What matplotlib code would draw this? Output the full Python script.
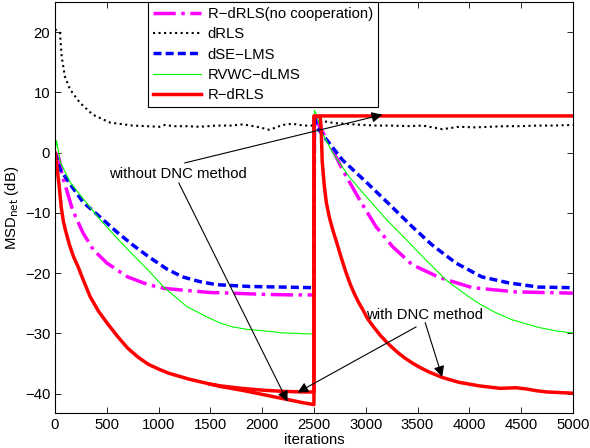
import matplotlib
matplotlib.use("Agg")
import matplotlib.pyplot as plt

plt.rcParams['font.family'] = ['Liberation Sans', 'DejaVu Sans']
plt.rcParams['font.size'] = 10.7

# ---- data (iteration, MSD in dB) ----
nocoop_x = [0, 40, 70, 100, 170, 270, 370, 500, 700, 900, 1050, 1230, 1500, 1700, 2000, 2300, 2500,
            2505, 2555, 2680, 2775, 2940, 3100, 3260, 3450, 3710, 4030, 4450, 5000]
nocoop_y = [0.0, -1.0, -3.8, -5.5, -9.5, -13.3, -16.1, -18.3, -20.6, -21.9, -22.5, -22.8, -23.2, -23.3, -23.5, -23.6, -23.6,
            6.0, 4.3, 0.5, -2.8, -7.8, -12.3, -15.6, -18.6, -20.7, -22.4, -23.1, -23.3]

drls_x = [0, 20, 48, 64, 96, 145, 240, 366, 530, 750, 1010, 1060, 1150, 1270, 1400, 1560, 1700, 1815, 1950,
          2071, 2196, 2292, 2400, 2490, 2550, 2600, 2700, 2800, 2970, 3100, 3250, 3400, 3550, 3740, 3900,
          4050, 4200, 4350, 4500, 4650, 4800, 5000]
drls_y = [20.5, 20.2, 19.9, 16.0, 12.6, 10.5, 8.3, 6.3, 5.0, 4.5, 4.3, 4.6, 4.4, 4.4, 4.3, 4.5, 4.5, 4.7, 4.3,
          3.8, 4.6, 4.8, 4.5, 4.5, 5.4, 5.2, 4.9, 4.8, 4.6, 4.5, 4.5, 4.4, 4.5, 3.9, 4.3,
          4.2, 4.3, 4.4, 4.4, 4.5, 4.5, 4.6]

dse_x = [0, 50, 150, 270, 430, 600, 750, 915, 1080, 1230, 1400, 1560, 1880, 2200, 2500,
         2505, 2525, 2620, 2775, 3000, 3230, 3450, 3640, 3870, 4120, 4380, 4670, 5000]
dse_y = [0.0, -2.8, -5.3, -8.2, -10.6, -13.2, -15.3, -17.4, -19.3, -20.6, -21.4, -21.9, -22.2, -22.3, -22.4,
         6.0, 4.3, 2.2, -1.2, -4.8, -8.6, -12.3, -15.3, -18.3, -20.6, -21.6, -22.3, -22.4]

rvwc_x = [0, 15, 50, 150, 270, 430, 600, 750, 900, 1050, 1270, 1460, 1600, 1715, 1850, 2040, 2200, 2360, 2500,
          2505, 2520, 2580, 2680, 2840, 3000, 3200, 3390, 3580, 3780, 3970, 4100, 4250, 4410, 4670, 4850, 5000]
rvwc_y = [0.0, 2.0, -1.5, -5.0, -7.6, -11.0, -14.2, -16.9, -19.5, -22.3, -25.5, -27.2, -28.3, -28.9, -29.3, -29.6, -29.9, -30.0, -30.1,
          7.0, 6.5, 3.3, 0.0, -4.0, -7.2, -11.1, -14.4, -17.8, -21.2, -23.6, -25.1, -26.5, -27.7, -29.0, -29.6, -29.9]

# R-dRLS, common start
rdrls_x = [0, 20, 40, 60, 80, 100, 140, 180, 220, 270, 340, 420, 500, 600, 700, 800, 900, 1000,
           1100, 1200, 1300, 1400, 1500]
rdrls_y = [0.0, -2.5, -5.5, -9.0, -11.3, -12.8, -15.3, -17.3, -18.8, -21.0, -23.9, -26.3, -28.2, -30.4, -32.4,
           -33.9, -35.1, -35.9, -36.6, -37.1, -37.6, -38.0, -38.4]
# with DNC method
dnc_x = [1600, 1800, 2000, 2200, 2400, 2500, 2501, 2560, 2570, 2580, 2600, 2620, 2650, 2685, 2720, 2765, 2810,
         2850, 2890, 2930, 2970, 3020, 3080, 3140, 3200, 3260, 3320, 3380, 3450, 3520, 3600, 3670, 3740, 3820,
         3900, 4000, 4100, 4200, 4300, 4450, 4550, 4650, 4750, 4870, 5000]
dnc_y = [-38.7, -39.1, -39.4, -39.6, -39.7, -39.7, 6.0, 6.0, 4.0, -1.5, -5.5, -8.3, -10.8, -13.0, -14.9, -17.5, -19.9,
         -21.8, -23.4, -24.8, -26.0, -27.6, -29.0, -30.3, -31.4, -32.4, -33.3, -34.1, -34.9, -35.6, -36.3, -36.8, -37.3, -37.7,
         -38.1, -38.4, -38.7, -38.9, -39.1, -39.0, -39.2, -39.5, -39.7, -39.8, -39.9]
# without DNC method
nodnc_x = [1600, 1800, 2000, 2200, 2400, 2500, 2501, 5000]
nodnc_y = [-38.8, -39.4, -40.1, -40.8, -41.5, -41.8, 6.1, 6.1]

fig = plt.figure(figsize=(5.9, 4.48), dpi=100)
ax = fig.add_axes([0.0932, 0.078, 0.8778, 0.9175])

ax.plot(nocoop_x, nocoop_y, '-.', color=(1, 0, 1), lw=2.5, label='R\u2212dRLS(no cooperation)')
ax.plot(drls_x, drls_y, ':', color='k', lw=1.5, label='dRLS')
ax.plot(dse_x, dse_y, '--', color=(0, 0, 1), lw=2.5, dashes=(2.3, 1.2), label='dSE\u2212LMS')
ax.plot(rvwc_x, rvwc_y, '-', color=(0, 1, 0), lw=0.8, label='RVWC\u2212dLMS')
ax.plot(rdrls_x + dnc_x, rdrls_y + dnc_y, '-', color=(1, 0, 0), lw=2.5, label='R\u2212dRLS')
ax.plot(rdrls_x[-1:] + nodnc_x, rdrls_y[-1:] + nodnc_y, '-', color=(1, 0, 0), lw=2.5)

# annotations
arrow = dict(arrowstyle='-|>', color='k', lw=0.8, mutation_scale=16, shrinkA=0, shrinkB=0)
ax.text(1185, -3.6, 'without DNC method', ha='center', va='center')
ax.annotate('', xy=(3160, 6.3), xytext=(1252, -1.7), arrowprops=arrow)
ax.annotate('', xy=(2245, -41.3), xytext=(1195, -5.0), arrowprops=arrow)
ax.text(3565, -26.9, 'with DNC method', ha='center', va='center')
ax.annotate('', xy=(2341, -39.8), xytext=(3487, -28.9), arrowprops=arrow)
ax.annotate('', xy=(3738, -37.2), xytext=(3574, -28.2), arrowprops=arrow)

ax.set_xlim(0, 5000)
ax.set_ylim(-43.2, 25)
ax.set_xticks(range(0, 5001, 500))
ax.set_yticks(range(-40, 21, 10))
ax.set_yticklabels(['\u221240', '\u221230', '\u221220', '\u221210', '0', '10', '20'])
ax.tick_params(direction='in', top=True, right=True, length=4, width=0.6)
for s in ax.spines.values():
    s.set_linewidth(0.8)

ax.set_xlabel('iterations', labelpad=1)
ax.set_ylabel(r'MSD$_{\rm net}$ (dB)', labelpad=3)

leg = ax.legend(loc='upper left', bbox_to_anchor=(0.18, 1.0), borderaxespad=0,
                fancybox=False, framealpha=1, edgecolor='k', handlelength=3.2,
                handletextpad=0.45, labelspacing=0.42, borderpad=0.35)
leg.get_frame().set_linewidth(0.8)

fig.savefig('out.png', dpi=100)
